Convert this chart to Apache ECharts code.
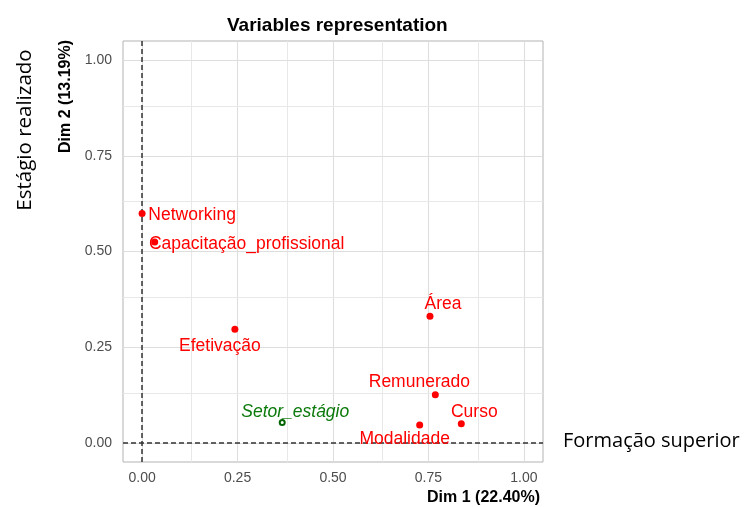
<!DOCTYPE html>
<html>
<head>
<meta charset="utf-8">
<script src="https://cdn.jsdelivr.net/npm/echarts@6/dist/echarts.min.js"></script>
<style>
  html, body { margin: 0; padding: 0; background: #fff; }
  #chart { width: 746px; height: 507px; }
</style>
</head>
<body>
<div id="chart"></div>
<script>
// variáveis ativas (coordenadas Dim 1 / Dim 2)
const varNames = ['Networking', 'Capacitação_profissional', 'Efetivação', 'Área', 'Remunerado', 'Modalidade', 'Curso'];
const varDim1 = [0.000, 0.033, 0.243, 0.754, 0.768, 0.727, 0.836];
const varDim2 = [0.599, 0.525, 0.297, 0.331, 0.126, 0.047, 0.050];

// variável suplementar
const supNames = ['Setor_estágio'];
const supDim1 = [0.367];
const supDim2 = [0.053];

// ticks dos eixos
const tickValues = [0, 0.25, 0.5, 0.75, 1];

// deslocamento dos rótulos (px) em relação ao ponto
const labelOffset = {
  'Networking': [50, 2],
  'Capacitação_profissional': [92, 2],
  'Efetivação': [-15, 17],
  'Área': [13, -12],
  'Remunerado': [-16, -12],
  'Modalidade': [-15, 14],
  'Curso': [13, -12],
  'Setor_estágio': [13, -10]
};

const minorValues = tickValues.slice(1).map((v, i) => (v + tickValues[i]) / 2);
const FONT = 'Liberation Sans, Arial, sans-serif';

function gridLines(axisKey) {
  const major = tickValues.map(v => ({ [axisKey]: v, lineStyle: { color: '#dedede', width: 1.1, type: 'solid' } }));
  const minor = minorValues.map(v => ({ [axisKey]: v, lineStyle: { color: '#e8e8e8', width: 1, type: 'solid' } }));
  return minor.concat(major);
}

const activeData = varNames.map((n, i) => ({
  name: n,
  value: [varDim1[i], varDim2[i]],
  label: { offset: labelOffset[n] }
}));
const supData = supNames.map((n, i) => ({
  name: n,
  value: [supDim1[i], supDim2[i]],
  label: { offset: labelOffset[n] }
}));

const myChart = echarts.init(document.getElementById('chart'));
const option = {
  animation: false,
  backgroundColor: '#fff',
  title: {
    text: 'Variables representation',
    left: 222,
    top: 11,
    textStyle: { fontFamily: FONT, fontSize: 19, fontWeight: 'bold', color: '#000' }
  },
  grid: {
    left: 123, right: 203, top: 41, bottom: 45,
    containLabel: false,
    show: true,
    borderColor: '#b3b3b3',
    borderWidth: 1,
    backgroundColor: 'transparent'
  },
  xAxis: {
    type: 'value',
    min: -0.05, max: 1.05,
    splitLine: { show: false },
    axisLine: { show: false },
    axisTick: { show: true, length: 4, customValues: tickValues, lineStyle: { color: '#b3b3b3' } },
    axisLabel: {
      customValues: tickValues, margin: 9,
      formatter: v => v.toFixed(2),
      color: '#4d4d4d', fontSize: 14, fontFamily: FONT
    }
  },
  yAxis: {
    type: 'value',
    min: -0.05, max: 1.05,
    splitLine: { show: false },
    axisLine: { show: false },
    axisTick: { show: true, length: 4, customValues: tickValues, lineStyle: { color: '#b3b3b3' } },
    axisLabel: {
      customValues: tickValues, margin: 11,
      formatter: v => v.toFixed(2),
      color: '#4d4d4d', fontSize: 14, fontFamily: FONT
    }
  },
  graphic: [
    { type: 'text', x: 540, y: 498, style: { text: 'Dim 1 (22.40%)', align: 'right', verticalAlign: 'middle', font: 'bold 16px ' + FONT, fill: '#000' } },
    { type: 'text', x: 66, y: 40, rotation: Math.PI / 2, style: { text: 'Dim 2 (13.19%)', align: 'right', verticalAlign: 'middle', font: 'bold 16px ' + FONT, fill: '#000' } },
    { type: 'text', x: 25, y: 130, rotation: Math.PI / 2, style: { text: 'Estágio realizado', align: 'center', verticalAlign: 'middle', font: '20.5px "Open Sans", Lato, sans-serif', fill: '#000' } },
    { type: 'text', x: 563, y: 441, style: { text: 'Formação superior', align: 'left', verticalAlign: 'middle', font: '20px "Open Sans", Lato, sans-serif', fill: '#000' } }
  ],
  series: [
    {
      name: 'grid-x', type: 'scatter', data: [], z: 1, silent: true,
      markLine: { silent: true, symbol: ['none', 'none'], label: { show: false }, data: gridLines('xAxis') }
    },
    {
      name: 'grid-y', type: 'scatter', data: [], z: 1, silent: true,
      markLine: { silent: true, symbol: ['none', 'none'], label: { show: false }, data: gridLines('yAxis') }
    },
    {
      name: 'origem', type: 'scatter', data: [], z: 2, silent: true,
      markLine: {
        silent: true, symbol: ['none', 'none'], label: { show: false },
        lineStyle: { color: '#333', width: 1.5, type: [5, 3] },
        data: [{ xAxis: 0 }, { yAxis: 0 }]
      }
    },
    {
      name: 'ativas', type: 'scatter', z: 5,
      symbol: 'circle', symbolSize: 7,
      itemStyle: { color: '#ff0000', opacity: 1 },
      label: {
        show: true, position: 'inside', formatter: '{b}', opacity: 1,
        color: '#ff0000', fontSize: 17.5, fontFamily: FONT,
        align: 'center', verticalAlign: 'middle'
      },
      data: activeData
    },
    {
      name: 'suplementar', type: 'scatter', z: 5,
      symbol: 'emptyCircle', symbolSize: 5,
      itemStyle: { color: '#006400', borderWidth: 1.2, opacity: 1 },
      label: {
        show: true, position: 'inside', formatter: '{b}', opacity: 1,
        color: '#0b7a0b', fontSize: 17.5, fontStyle: 'italic', fontFamily: FONT,
        align: 'center', verticalAlign: 'middle'
      },
      data: supData
    }
  ]
};
myChart.setOption(option);
</script>
</body>
</html>
